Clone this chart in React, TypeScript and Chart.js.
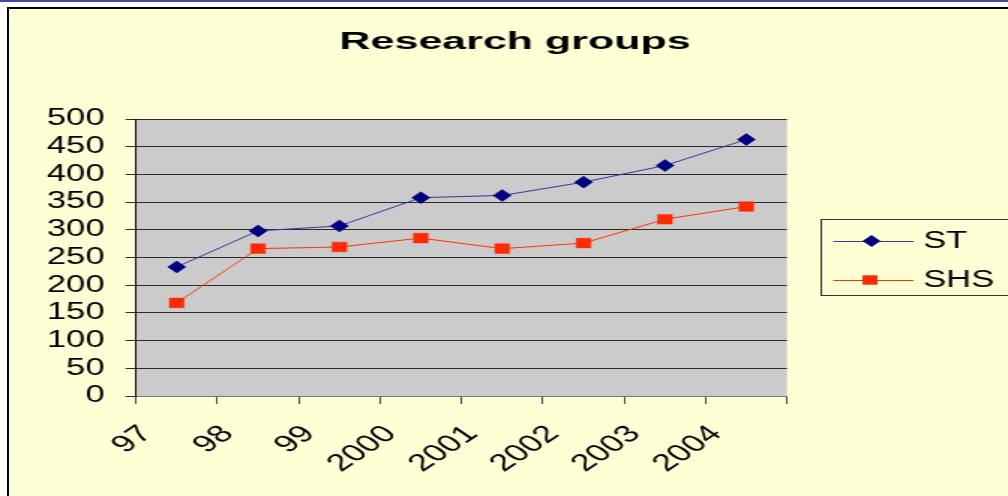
import React, { useEffect, useRef } from 'react';
import { Chart, registerables } from 'chart.js';

Chart.register(...registerables);

// ---- data ----
const categories = ['97', '98', '99', '2000', '2001', '2002', '2003', '2004'];
const stValues = [233, 298, 307, 358, 362, 386, 416, 463];
const shsValues = [168, 266, 269, 285, 266, 276, 319, 342];
const seriesNames = ['ST', 'SHS'];
const titleText = 'Research groups';
const yMin = 0;
const yMax = 500;
const yStep = 50;

// ---- look ----
const SX = 1.5; // the reference is horizontally stretched
const W = 672;
const H = 496;
const FONT = "'Liberation Sans', Arial, sans-serif";
const ST_LINE = '#2B3BA3';
const ST_MARK = '#000080';
const SHS_LINE = '#FF3300';
const SHS_MARK = '#FF2A00';

const plotBg = {
  id: 'plotBg',
  beforeDraw(chart: any) {
    const { ctx, chartArea: a } = chart;
    ctx.save();
    ctx.fillStyle = '#CBCBCB';
    ctx.fillRect(a.left, a.top, a.right - a.left, a.bottom - a.top);
    ctx.restore();
  },
};

const titlePlugin = {
  id: 'stretchedTitle',
  afterDraw(chart: any) {
    const { ctx } = chart;
    ctx.save();
    ctx.font = `bold 23px ${FONT}`;
    const w = ctx.measureText(titleText).width;
    const f = 351 / SX / w;
    ctx.translate(515 / SX, 49);
    ctx.scale(f, 1);
    ctx.textAlign = 'center';
    ctx.textBaseline = 'alphabetic';
    ctx.fillStyle = '#000';
    ctx.fillText(titleText, 0, 0);
    ctx.restore();
  },
};

const legendPlugin = {
  id: 'excelLegend',
  afterDraw(chart: any) {
    const { ctx } = chart;
    const left = 547.5;
    const top = 219.5;
    const bottom = 295.5;
    ctx.save();
    ctx.strokeStyle = '#333';
    ctx.lineWidth = 1;
    ctx.strokeRect(left, top, 300, bottom - top);
    const rows = [
      { y: 241, line: ST_LINE, mark: ST_MARK, kind: 'diamond', mx: 581 },
      { y: 280, line: SHS_LINE, mark: SHS_MARK, kind: 'square', mx: 580 },
    ];
    rows.forEach((r, i) => {
      ctx.strokeStyle = r.line;
      ctx.lineWidth = 1;
      ctx.beginPath();
      ctx.moveTo(555.5, r.y + 0.5);
      ctx.lineTo(609, r.y + 0.5);
      ctx.stroke();
      ctx.fillStyle = r.mark;
      ctx.beginPath();
      if (r.kind === 'diamond') {
        ctx.moveTo(r.mx, r.y - 6);
        ctx.lineTo(r.mx + 6, r.y);
        ctx.lineTo(r.mx, r.y + 6);
        ctx.lineTo(r.mx - 6, r.y);
        ctx.closePath();
      } else {
        ctx.rect(r.mx - 5, r.y - 4.7, 10, 9.4);
      }
      ctx.fill();
      ctx.fillStyle = '#000';
      ctx.font = `23px ${FONT}`;
      ctx.textAlign = 'left';
      ctx.textBaseline = 'middle';
      ctx.fillText(seriesNames[i], 615.5, r.y + 1);
    });
    ctx.restore();
  },
};

export default function App() {
  const ref = useRef<HTMLCanvasElement>(null);

  useEffect(() => {
    const canvas = ref.current;
    if (!canvas) return;
    const chart = new Chart(canvas, {
      type: 'line',
      data: {
        datasets: [
          {
            label: seriesNames[0],
            data: stValues.map((v, i) => ({ x: i + 0.5, y: v })),
            borderColor: ST_LINE,
            borderWidth: 1,
            pointStyle: 'rectRot',
            pointRadius: 6,
            pointBackgroundColor: ST_MARK,
            pointBorderColor: ST_MARK,
            pointBorderWidth: 0.5,
            tension: 0,
          },
          {
            label: seriesNames[1],
            data: shsValues.map((v, i) => ({ x: i + 0.5, y: v })),
            borderColor: SHS_LINE,
            borderWidth: 1,
            pointStyle: 'rect',
            pointRadius: 6.8,
            pointBackgroundColor: SHS_MARK,
            pointBorderColor: SHS_MARK,
            pointBorderWidth: 0.5,
            tension: 0,
          },
        ],
      },
      options: {
        responsive: false,
        animation: false,
        devicePixelRatio: 1,
        layout: { padding: { top: 119, right: W - 787 / SX, left: 0, bottom: 0 } },
        plugins: {
          legend: { display: false },
          title: { display: false },
          tooltip: { enabled: false },
        },
        scales: {
          x: {
            type: 'linear',
            min: 0,
            max: categories.length,
            position: 'bottom',
            afterBuildTicks: (s: any) => {
              s.ticks = categories.map((_, i) => ({ value: i })).concat([{ value: categories.length }]);
            },
            afterFit: (s: any) => {
              s.height = H - 396;
            },
            grid: { drawOnChartArea: false, drawTicks: true, tickLength: 8, color: '#444', lineWidth: 1 },
            border: { display: true, color: '#777', width: 1 },
            ticks: {
              autoSkip: false,
              minRotation: 45,
              maxRotation: 45,
              padding: 16,
              labelOffset: 7,
              color: '#000',
              font: { family: FONT, size: 24 },
              callback: (_v: any, i: number) => categories[i] ?? '',
            },
          },
          y: {
            min: yMin,
            max: yMax,
            afterFit: (s: any) => {
              s.width = 136 / SX;
            },
            grid: { color: '#2b2b2b', lineWidth: 1, drawTicks: true, tickLength: 7 },
            border: { display: true, color: '#000', width: 1 },
            ticks: {
              autoSkip: false,
              stepSize: yStep,
              padding: 14,
              color: '#000',
              font: { family: FONT, size: 23 },
            },
          },
        },
      },
      plugins: [plotBg, titlePlugin, legendPlugin],
    } as any);
    return () => chart.destroy();
  }, []);

  return (
    <div
      style={{
        position: 'fixed',
        left: 0,
        top: 0,
        width: 1008,
        height: 496,
        overflow: 'hidden',
        background: '#fff',
      }}
    >
      <div style={{ position: 'absolute', left: 0, top: 0, width: 1008, height: 2, background: '#4848A8' }} />
      <div
        style={{
          position: 'absolute',
          left: 7,
          top: 7,
          width: 1100,
          height: 600,
          borderLeft: '2px solid #000',
          borderTop: '2px solid #000',
          background: '#FFFFD5',
        }}
      />
      <canvas
        ref={ref}
        width={W}
        height={H}
        style={{ position: 'absolute', left: 0, top: 0, width: '1008px', height: '496px' }}
      />
    </div>
  );
}
